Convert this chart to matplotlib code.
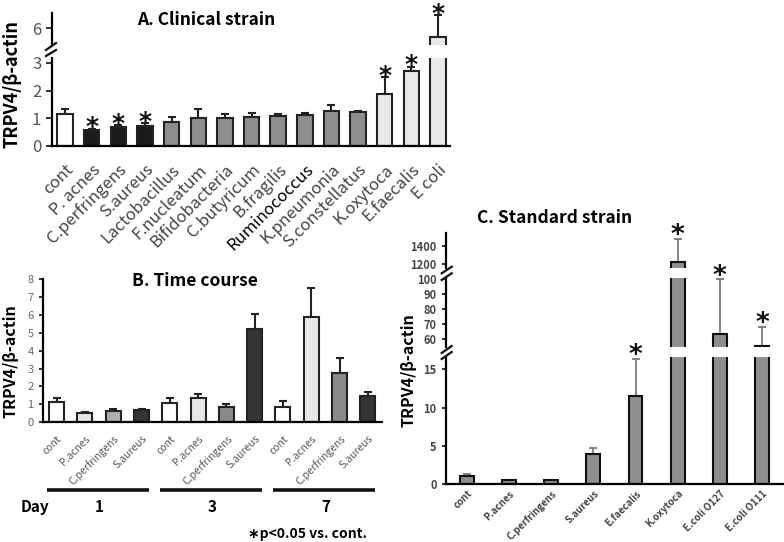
import numpy as np
import matplotlib
matplotlib.use('Agg')
import matplotlib.pyplot as plt
from matplotlib.lines import Line2D

plt.rcParams['font.family'] = ['Noto Sans CJK JP', 'DejaVu Sans']

W, H = 784, 542

# ---- data ----
names_a = ['cont', 'P. acnes', 'C.perfringens', 'S.aureus', 'Lactobacillus', 'F.nucleatum',
           'Bifidobacteria', 'C.butyricum', 'B.fragilis', 'Ruminococcus', 'K.pneumonia',
           'S.constellatus', 'K.oxytoca', 'E.faecalis', 'E coli']
vals_a = [1.17, 0.57, 0.70, 0.72, 0.88, 1.01, 1.01, 1.06, 1.09, 1.11, 1.25, 1.24, 1.88, 2.71, 5.70]
err_a = [0.17, 0.06, 0.06, 0.11, 0.18, 0.32, 0.14, 0.12, 0.08, 0.09, 0.22, 0.03, 0.61, 0.16, 0.78]
sig_a = [1, 2, 3, 12, 13, 14]

names_b = ['cont', 'P.acnes', 'C.perfringens', 'S.aureus'] * 3
days_b = ['1', '3', '7']
vals_b = [1.13, 0.52, 0.63, 0.67, 1.08, 1.34, 0.84, 5.21, 0.86, 5.90, 2.77, 1.49]
err_b = [0.21, 0.07, 0.11, 0.09, 0.30, 0.26, 0.18, 0.84, 0.34, 1.62, 0.80, 0.22]

names_c = ['cont', 'P.acnes', 'C.perfringens', 'S.aureus', 'E.faecalis', 'K.oxytoca',
           'E.coli O127', 'E.coli O111']
vals_c = [1.1, 0.5, 0.5, 4.0, 11.5, 1228, 63.1, 55.3]
err_c = [0.2, 0.1, 0.05, 0.7, 4.9, 246, 36.9, 12.7]
sig_c = [4, 5, 6, 7]

col_a = ['white'] + ['#1c1c1c'] * 3 + ['#8e8e8e'] * 8 + ['#e8e9ea'] * 3
col_b = ['white', '#e6e7e8', '#b0b0b0', '#353535',
         'white', '#e6e7e8', '#8a8a8a', '#353535',
         'white', '#e6e7e8', '#8a8a8a', '#353535']


def rect(l, r, t, b):
    # pixel box -> figure fraction
    return [l / W, 1 - b / H, (r - l) / W, (b - t) / H]


def slash(x0, y0, x1, y1):
    fig.add_artist(Line2D([x0 / W, x1 / W], [1 - y0 / H, 1 - y1 / H], color='#111', lw=1.6))


def style(ax, bottom=True):
    ax.set_facecolor('none')
    for s in ['top', 'right']:
        ax.spines[s].set_visible(False)
    ax.spines['left'].set_linewidth(1.6)
    ax.spines['bottom'].set_linewidth(1.6)
    if not bottom:
        ax.spines['bottom'].set_visible(False)
        ax.tick_params(axis='x', bottom=False, labelbottom=False)


def star(ax, x, y, size=18, off=-4):
    # baseline placed just under the error bar top so the glyph sits right above it
    ax.annotate('*', (x, y), xytext=(0, off), textcoords='offset points', ha='center',
                va='baseline', fontsize=size, fontweight='bold', family='DejaVu Sans',
                color='#111', annotation_clip=False, zorder=5)


fig = plt.figure(figsize=(W / 100, H / 100), dpi=100)

# ---------------- A ----------------
xa = np.arange(len(names_a))
axA = fig.add_axes(rect(51.7, 450, 58, 146))
axA2 = fig.add_axes(rect(51.7, 450, 13, 45))
for ax in (axA, axA2):
    ax.bar(xa, vals_a, 0.58, color=col_a, edgecolor='#222', linewidth=1.5, zorder=2)
    ax.errorbar(xa, vals_a, yerr=[np.zeros(len(xa)), err_a], fmt='none', ecolor='#222',
                elinewidth=1.5, capsize=3, capthick=1.5, zorder=1)
    ax.set_xlim(-0.5, 14.45)
axA.set_ylim(0, 3.18)
axA2.set_ylim(5.40, 6.55)
style(axA)
style(axA2, bottom=False)
axA.set_yticks([0, 1, 2, 3])
axA2.set_yticks([6])
for ax in (axA, axA2):
    ax.tick_params(axis='y', labelsize=12, colors='#111', labelcolor='#555', width=1.2, length=4)
axA.set_xticks(xa)
axA.set_xticklabels(names_a, rotation=45, ha='right', va='top', rotation_mode='anchor',
                    fontsize=12, color='#444')
axA.get_xticklabels()[9].set_color('black')
axA.tick_params(axis='x', length=0, pad=11)
for i in sig_a:
    top = vals_a[i] + err_a[i]
    star(axA2 if top > 4 else axA, xa[i], top)
slash(46, 50, 56, 43)
slash(46, 56, 56, 50)
fig.text(206 / W, 1 - 20 / H, 'A. Clinical strain', ha='center', va='center',
         fontsize=12.5, fontweight='bold')
fig.text(12 / W, 1 - 84 / H, 'TRPV4/β-actin', rotation=90, ha='center', va='center',
         fontsize=13, fontweight='bold')

# ---------------- B ----------------
xb = np.arange(len(vals_b))
axB = fig.add_axes(rect(42.7, 381.7, 279, 422.3))
axB.bar(xb, vals_b, 0.53, color=col_b, edgecolor='#222', linewidth=1.5, zorder=2)
axB.errorbar(xb, vals_b, yerr=[np.zeros(len(xb)), err_b], fmt='none', ecolor='#222',
             elinewidth=1.5, capsize=3, capthick=1.5, zorder=1)
axB.set_xlim(-0.495, 11.49)
axB.set_ylim(0, 8)
style(axB)
axB.set_yticks(range(9))
axB.tick_params(axis='y', labelsize=8, colors='#111', labelcolor='#666', width=1.2, length=3)
axB.set_xticks(xb)
axB.set_xticklabels(names_b, rotation=45, ha='right', va='top', rotation_mode='anchor',
                    fontsize=7.5, color='#555')
axB.tick_params(axis='x', length=0, pad=8)
for g, d in enumerate(days_b):
    s = g * 4
    axB.plot([s - 0.34, s + 3.27], [-0.472, -0.472], color='#111', lw=2.6,
             transform=axB.get_xaxis_transform(), clip_on=False, solid_capstyle='butt')
    axB.text(s + 1.5, -0.591, d, transform=axB.get_xaxis_transform(), ha='center',
             va='center', fontsize=11, fontweight='bold')
axB.text(-0.77, -0.591, 'Day', transform=axB.get_xaxis_transform(), ha='center',
         va='center', fontsize=11, fontweight='bold')
fig.text(195 / W, 1 - 281 / H, 'B. Time course', ha='center', va='center',
         fontsize=12.5, fontweight='bold')
fig.text(11 / W, 1 - 361 / H, 'TRPV4/β-actin', rotation=90, ha='center', va='center',
         fontsize=11.5, fontweight='bold')
fig.text(248 / W, 1 - 534 / H, '∗p<0.05 vs. cont.', ha='left', va='center',
         fontsize=10, fontweight='bold')

# ---------------- C ----------------
xc = np.arange(len(vals_c))
axC = fig.add_axes(rect(445.7, 783, 357, 484.3))
axC2 = fig.add_axes(rect(445.7, 783, 278, 347))
axC3 = fig.add_axes(rect(445.7, 783, 233, 268))
for ax in (axC, axC2, axC3):
    ax.bar(xc, vals_c, 0.33, color='#8e8e8e', edgecolor='#111', linewidth=1.5, zorder=2)
    ax.errorbar(xc, vals_c, yerr=[np.zeros(len(xc)), err_c], fmt='none', ecolor='#7a7a7a',
                elinewidth=1.3, capsize=3, capthick=1.3, zorder=1)
    ax.set_xlim(-0.505, 7.5)
axC.set_ylim(0, 16.6)
axC2.set_ylim(54.6, 100.9)
axC3.set_ylim(1163, 1532)
style(axC)
style(axC2, bottom=False)
style(axC3, bottom=False)
axC.set_yticks([0, 5, 10, 15])
axC2.set_yticks([60, 70, 80, 90, 100])
axC3.set_yticks([1200, 1400])
for ax in (axC, axC2, axC3):
    ax.tick_params(axis='y', labelsize=8, colors='#111', labelcolor='#444', width=1.2, length=3)
    for t in ax.get_yticklabels():
        t.set_fontweight('bold')
axC.set_xticks(xc)
axC.set_xticklabels(names_c, rotation=45, ha='right', va='top', rotation_mode='anchor',
                    fontsize=7, color='#444', fontweight='bold')
axC.tick_params(axis='x', length=0, pad=3)
for i in sig_c:
    top = vals_c[i] + err_c[i]
    ax = axC3 if top > 1000 else (axC2 if top > 30 else axC)
    star(ax, xc[i], top, 19, -3)
slash(441.7, 273.3, 451.7, 266.7)
slash(441.7, 280, 451.7, 273.3)
slash(441.7, 353, 451.7, 346)
slash(441.7, 359, 451.7, 352)
fig.text(555 / W, 1 - 218 / H, 'C. Standard strain', ha='center', va='center',
         fontsize=12.5, fontweight='bold')
fig.text(409 / W, 1 - 370 / H, 'TRPV4/β-actin', rotation=90, ha='center', va='center',
         fontsize=11.5, fontweight='bold')

fig.savefig('out.png', dpi=100)
